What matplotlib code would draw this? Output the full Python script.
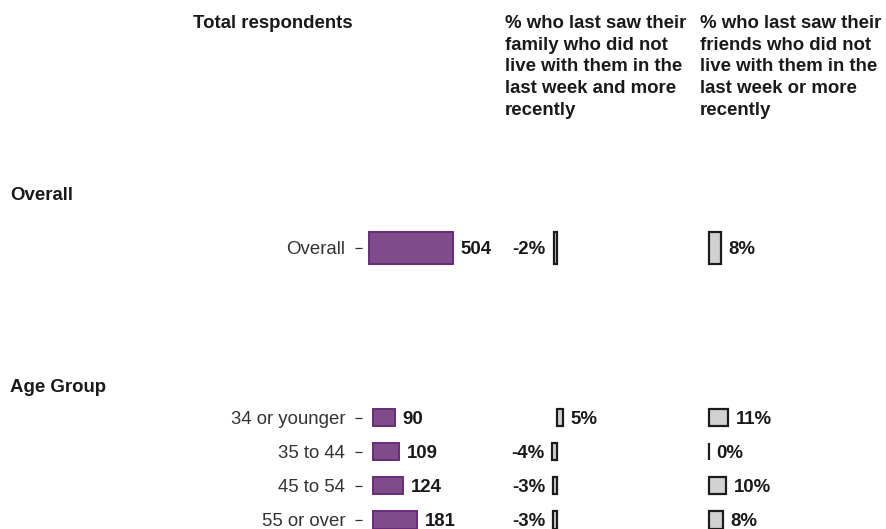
import matplotlib
matplotlib.use("Agg")
import matplotlib.pyplot as plt

plt.rcParams['font.family'] = ['Liberation Sans', 'DejaVu Sans']

# ---------------- data ----------------
facet_names = ["Overall", "Age Group"]
overall_labels = ["Overall"]
age_labels = ["34 or younger", "35 to 44", "45 to 54", "55 or over"]
total_overall = [504]
total_age = [90, 109, 124, 181]
family_overall = [-2]
family_age = [5, -4, -3, -3]
friends_overall = [8]
friends_age = [11, 0, 10, 8]
col_headers = [
    "Total respondents",
    "% who last saw their\nfamily who did not\nlive with them in the\nlast week and more\nrecently",
    "% who last saw their\nfriends who did not\nlive with them in the\nlast week or more\nrecently",
]

# ---------------- layout helpers ----------------
W, H = 886, 529
fig = plt.figure(figsize=(W / 100, H / 100), dpi=100)
FS = 13.4
PURPLE_FILL = "#7e4c89"
PURPLE_EDGE = "#6a2a7a"
GRAY_FILL = "#d2d2d2"
GRAY_EDGE = "#1c1c1c"


def add_ax(left, top, width, height):
    ax = fig.add_axes([left / W, 1 - (top + height) / H, width / W, height / H])
    ax.patch.set_alpha(0)
    for s in ax.spines.values():
        s.set_visible(False)
    ax.set_xticks([])
    ax.set_yticks([])
    return ax


def set_px_scale(ax, ax_left, ax_width, zero_px, px_per_unit):
    lo = -(zero_px - ax_left) / px_per_unit
    hi = (ax_left + ax_width - zero_px) / px_per_unit
    ax.set_xlim(lo, hi)


def draw_col(ax, labels, values, kind, bar_h, fmt):
    y = list(range(len(labels)))
    if kind == "total":
        ax.barh(y, values, height=bar_h, color=PURPLE_FILL, edgecolor=PURPLE_EDGE,
                linewidth=1.4, clip_on=False)
    else:
        ax.barh(y, values, height=bar_h, color=GRAY_FILL, edgecolor=GRAY_EDGE,
                linewidth=1.6, clip_on=False)
    for yi, v in zip(y, values):
        if v < 0:
            ax.annotate(fmt(v), (v, yi), xytext=(-5.5, -1.2), textcoords="offset points",
                        ha="right", va="center", fontsize=FS, fontweight="bold",
                        color="#1a1a1a", annotation_clip=False)
        else:
            ax.annotate(fmt(v), (v, yi), xytext=(5.5, -1.2), textcoords="offset points",
                        ha="left", va="center", fontsize=FS, fontweight="bold",
                        color="#1a1a1a", annotation_clip=False)


# vertical layout (pixels)
ov_top, ov_h = 218, 60          # one row, centre ~248
ag_top, ag_h = 401, 136         # four rows, 34 px apart

cols = [
    # (axes left, axes width, zero px, scale overall, scale age)
    (362, 140, (369, 373), (84 / 504, 44 / 181)),
    (505, 120, (557, 557), (1.75, 1.2)),
    (700, 120, (709, 709), (1.5, 1.73)),
]
data = [
    (total_overall, total_age, "total", lambda v: f"{v}"),
    (family_overall, family_age, "pct", lambda v: f"{v}%"),
    (friends_overall, friends_age, "pct", lambda v: f"{v}%"),
]

for ci, ((axl, axw, zeros, scales), (ov_vals, ag_vals, kind, fmt)) in enumerate(zip(cols, data)):
    ax_o = add_ax(axl, ov_top, axw, ov_h)
    ax_o.set_ylim(0.5, -0.5)
    set_px_scale(ax_o, axl, axw, zeros[0], scales[0])
    draw_col(ax_o, overall_labels, ov_vals, kind, 0.52, fmt)

    ax_a = add_ax(axl, ag_top, axw, ag_h)
    ax_a.set_ylim(3.5, -0.5)
    set_px_scale(ax_a, axl, axw, zeros[1], scales[1])
    draw_col(ax_a, age_labels, ag_vals, kind, 0.5, fmt)

    if ci == 0:
        for ax, labs in ((ax_o, overall_labels), (ax_a, age_labels)):
            ax.set_yticks(range(len(labs)))
            ax.set_yticklabels(labs, fontsize=FS, color="#333333")
            ax.tick_params(axis="y", length=5, width=0.9, color="#333333", pad=7)

# column headers
fig.text(193 / W, 1 - 15 / H, col_headers[0], ha="left", va="top", fontsize=FS,
         fontweight="bold", color="#1a1a1a")
fig.text(505 / W, 1 - 15 / H, col_headers[1], ha="left", va="top", fontsize=FS,
         fontweight="bold", color="#1a1a1a", linespacing=1.36)
fig.text(700 / W, 1 - 15 / H, col_headers[2], ha="left", va="top", fontsize=FS,
         fontweight="bold", color="#1a1a1a", linespacing=1.36)

# facet labels
fig.text(10 / W, 1 - 196 / H, facet_names[0], ha="left", va="center", fontsize=FS,
         fontweight="bold", color="#1a1a1a")
fig.text(10 / W, 1 - 387 / H, facet_names[1], ha="left", va="center", fontsize=FS,
         fontweight="bold", color="#1a1a1a")

fig.savefig("out.png", dpi=100, facecolor="white")
